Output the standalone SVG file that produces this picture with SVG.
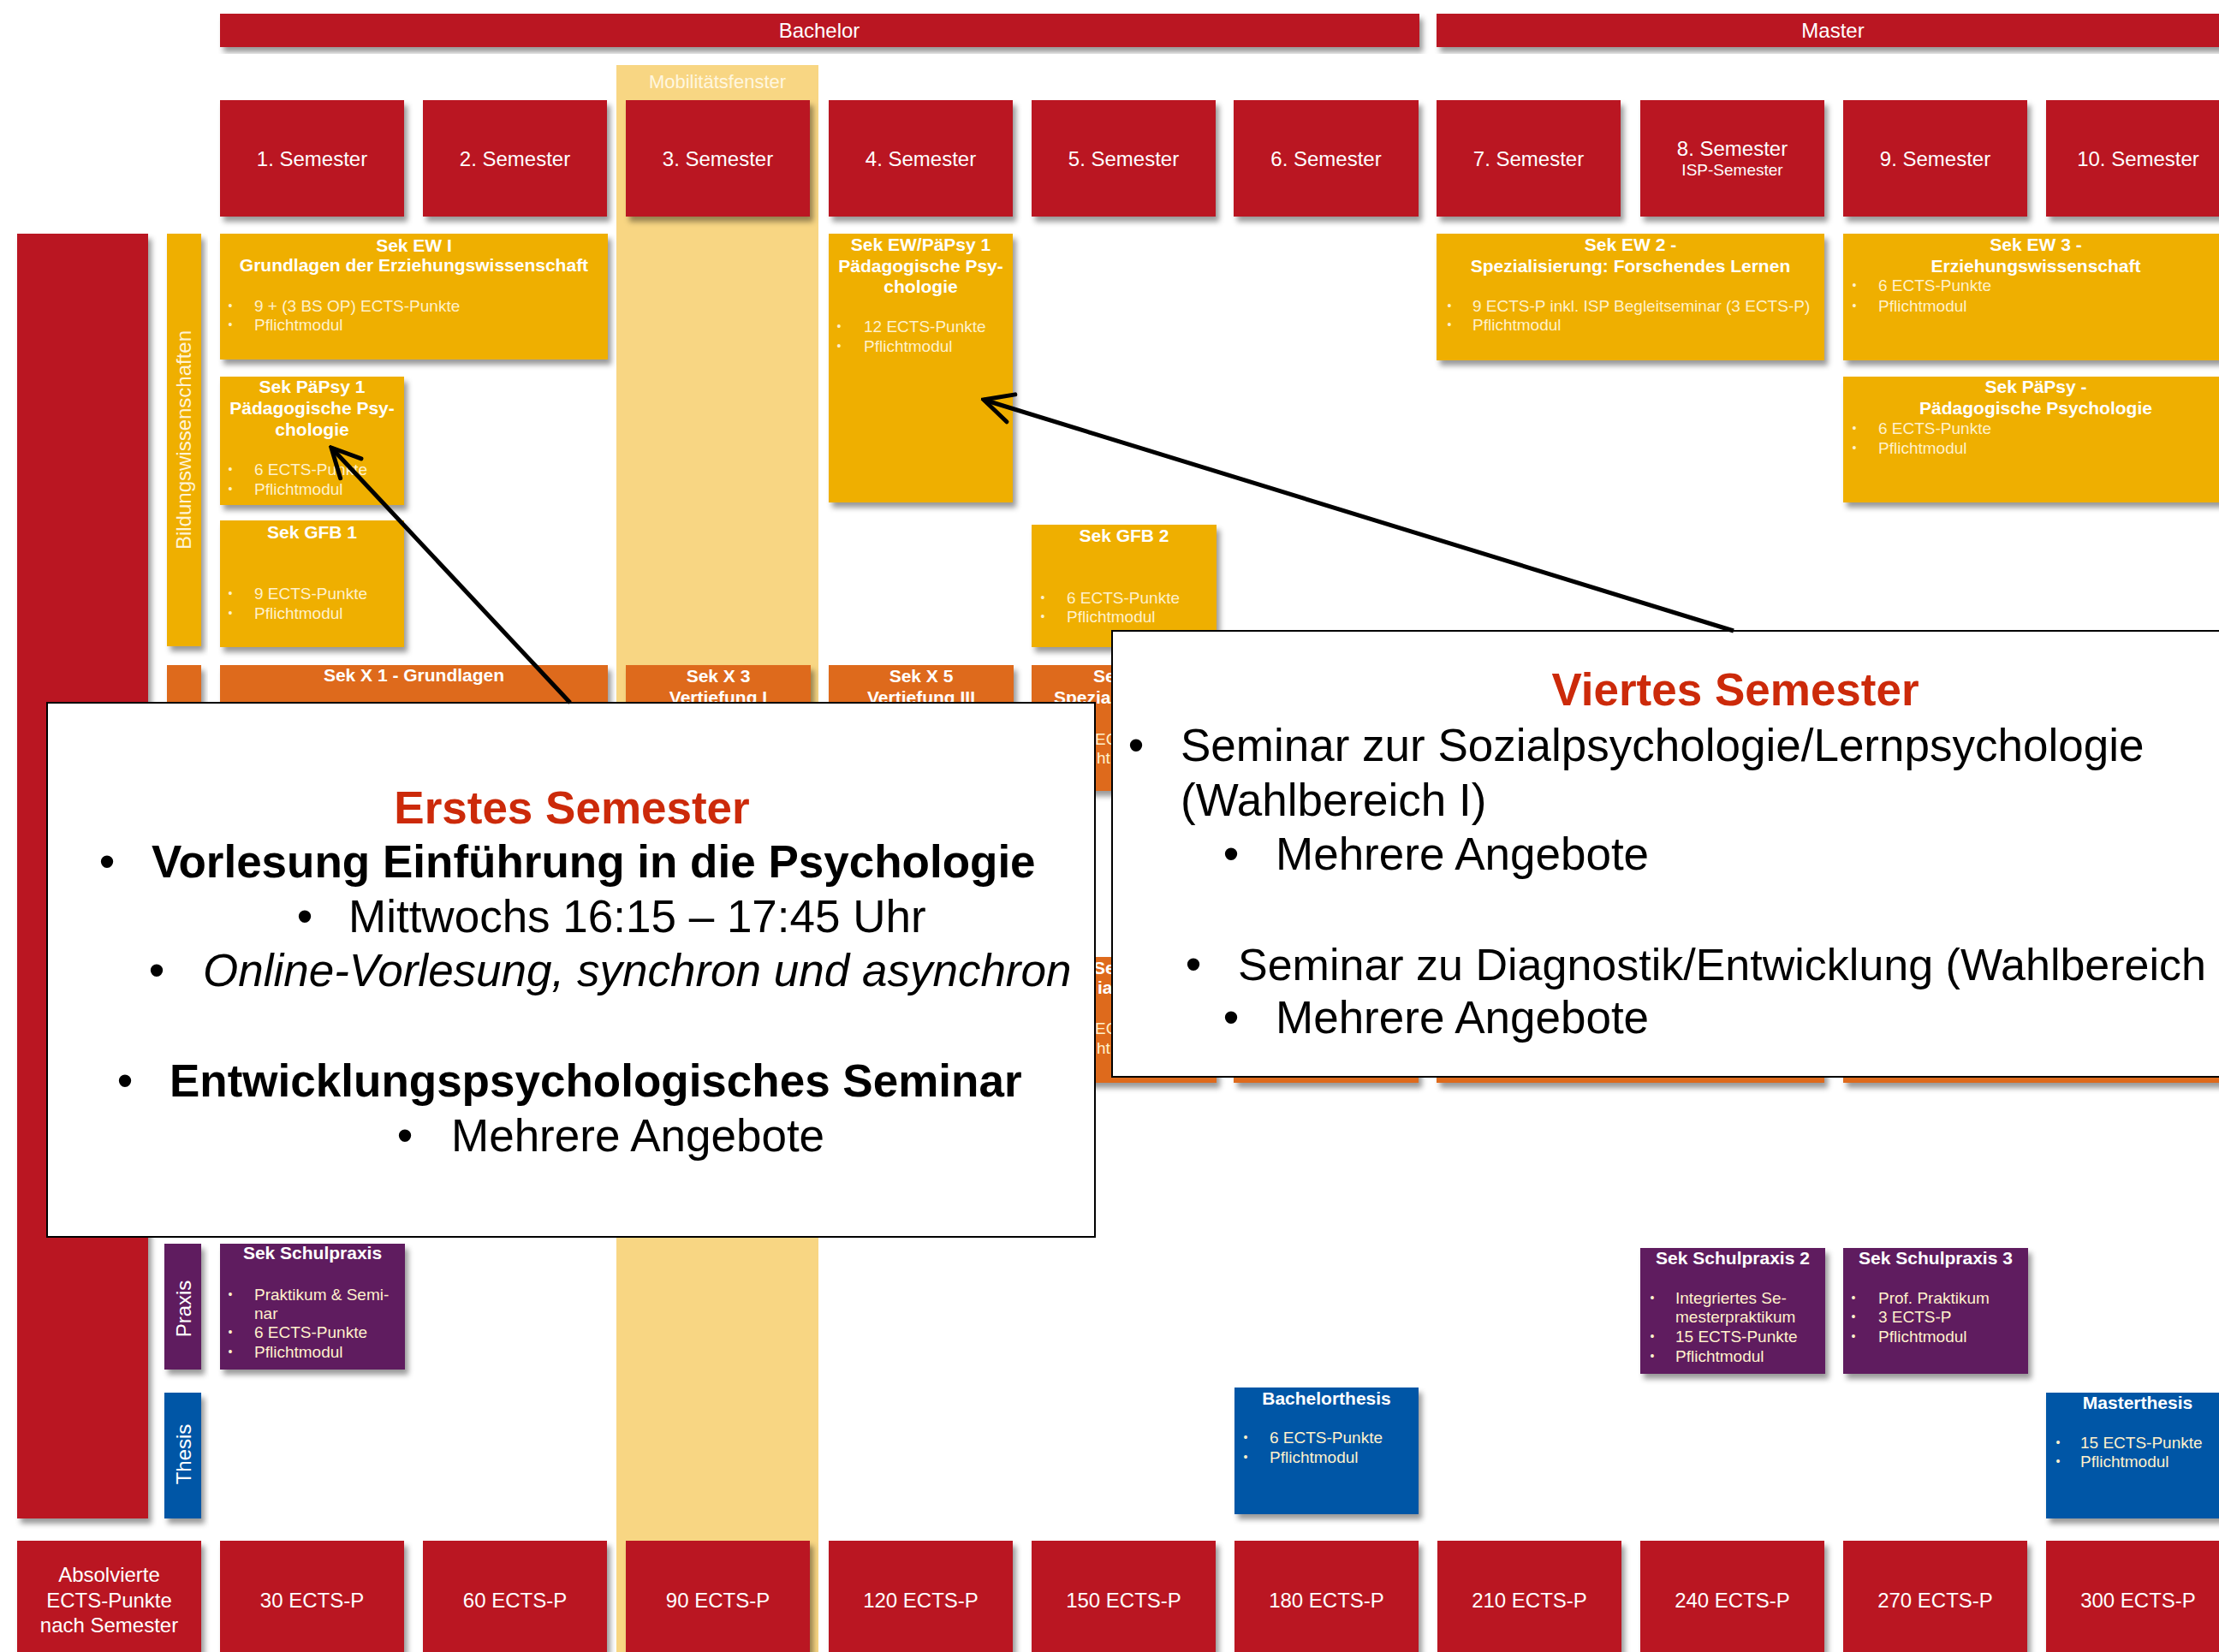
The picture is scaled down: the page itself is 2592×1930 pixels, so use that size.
<svg xmlns="http://www.w3.org/2000/svg" width="2592" height="1930" viewBox="0 0 2592 1930">
<style>
text{font-family:"Liberation Sans",Arial,sans-serif}
.red{fill:#BA1622}
.yel{fill:#EFAF00}
.ora{fill:#DE6B1F}
.pur{fill:#5E1E5E}
.blu{fill:#0556A6}
.band{fill:#F8D683}
.sh{filter:url(#ds)}
.hd{font-size:24px;fill:#fff;text-anchor:middle}
.hs{font-size:19px;fill:#fff;text-anchor:middle}
.vt{font-size:24px;fill:#FFF3D6;text-anchor:middle}
.mt{font-size:21px;font-weight:bold;fill:#fff;text-anchor:middle}
.mf{font-size:21px;font-weight:bold;fill:#fff}
.mb{font-size:19px;fill:#FFF1CC}
.bu{font-size:14px;fill:#FFF1CC;text-anchor:middle}
.cal{fill:#fff;stroke:#000;stroke-width:2}
.ct{font-size:53px;fill:#000}
.cb{font-size:53px;fill:#000;font-weight:bold}
.ci{font-size:53px;fill:#000;font-style:italic}
.cd{font-size:53px;fill:#000;text-anchor:middle}
.tit{font-size:53px;font-weight:bold;fill:#CC2A0A;text-anchor:middle}
.arr{stroke:#000;stroke-width:5;fill:none;marker-end:url(#ah)}
</style>
<defs>
<filter id="ds" x="-10%" y="-10%" width="130%" height="130%">
<feDropShadow dx="4" dy="6" stdDeviation="3" flood-color="#000" flood-opacity="0.4"/>
</filter>
<marker id="ah" viewBox="0 0 12 12" refX="11" refY="6" markerWidth="8" markerHeight="8" orient="auto" markerUnits="strokeWidth">
<path d="M1,1 L11,6 L1,11" fill="none" stroke="#000" stroke-width="1.5" stroke-linecap="round" stroke-linejoin="miter"/>
</marker>
</defs>
<rect width="2592" height="1930" fill="#fff"/>

<g id="mobilitaetsfenster">
<rect class="band" x="720" y="76" width="236" height="1860"/>
<text x="838" y="103" style="font-size:22px;fill:#FFF7E0;text-anchor:middle">Mobilitätsfenster</text>
</g>

<g id="bachelor"><rect class="red sh" x="257" y="16" width="1401" height="39"/><text class="hd" x="957" y="44">Bachelor</text></g>
<g id="master"><rect class="red sh" x="1678" y="16" width="930" height="39"/><text class="hd" x="2141" y="44">Master</text></g>

<g id="semester-1"><rect class="red sh" x="257" y="117" width="215" height="136"/><text class="hd" x="364.5" y="194">1. Semester</text></g>
<g id="semester-2"><rect class="red sh" x="494" y="117" width="215" height="136"/><text class="hd" x="601.5" y="194">2. Semester</text></g>
<g id="semester-3"><rect class="red sh" x="731" y="117" width="215" height="136"/><text class="hd" x="838.5" y="194">3. Semester</text></g>
<g id="semester-4"><rect class="red sh" x="968" y="117" width="215" height="136"/><text class="hd" x="1075.5" y="194">4. Semester</text></g>
<g id="semester-5"><rect class="red sh" x="1205" y="117" width="215" height="136"/><text class="hd" x="1312.5" y="194">5. Semester</text></g>
<g id="semester-6"><rect class="red sh" x="1441" y="117" width="216" height="136"/><text class="hd" x="1549" y="194">6. Semester</text></g>
<g id="semester-7"><rect class="red sh" x="1678" y="117" width="215" height="136"/><text class="hd" x="1785.5" y="194">7. Semester</text></g>
<g id="semester-8"><rect class="red sh" x="1916" y="117" width="215" height="136"/><text class="hd" x="2023.5" y="182">8. Semester</text><text class="hs" x="2023.5" y="205">ISP-Semester</text></g>
<g id="semester-9"><rect class="red sh" x="2153" y="117" width="215" height="136"/><text class="hd" x="2260.5" y="194">9. Semester</text></g>
<g id="semester-10"><rect class="red sh" x="2390" y="117" width="215" height="136"/><text class="hd" x="2497.5" y="194">10. Semester</text></g>

<g id="left-bar"><rect class="red sh" x="20" y="273" width="153" height="1501"/></g>
<g id="bildungswissenschaften"><rect class="yel sh" x="195" y="273" width="40" height="482"/><text class="vt" transform="translate(223,514) rotate(-90)">Bildungswissenschaften</text></g>
<g id="fach-bar"><rect class="ora sh" x="195" y="777" width="40" height="300"/></g>
<g id="praxis"><rect class="pur sh" x="192" y="1453" width="43" height="147"/><text class="vt" style="fill:#fff" transform="translate(223,1529) rotate(-90)">Praxis</text></g>
<g id="thesis"><rect class="blu sh" x="192" y="1627" width="43" height="147"/><text class="vt" style="fill:#fff" transform="translate(223,1699) rotate(-90)">Thesis</text></g>

<g id="sek-ew-1"><rect class="yel sh" x="257" y="273" width="453" height="147"/>
<text class="mt" x="483.5" y="294">Sek EW I</text><text class="mt" x="483.5" y="317">Grundlagen der Erziehungswissenschaft</text>
<text class="bu" x="269" y="362">•</text><text class="mb" x="297" y="364">9 + (3 BS OP) ECTS-Punkte</text>
<text class="bu" x="269" y="384">•</text><text class="mb" x="297" y="386">Pflichtmodul</text></g>

<g id="sek-paepsy-1"><rect class="yel sh" x="257" y="440" width="215" height="150"/>
<text class="mt" x="364.5" y="459">Sek PäPsy 1</text><text class="mt" x="364.5" y="484">Pädagogische Psy-</text><text class="mt" x="364.5" y="509">chologie</text>
<text class="bu" x="269" y="553">•</text><text class="mb" x="297" y="555">6 ECTS-Punkte</text>
<text class="bu" x="269" y="576">•</text><text class="mb" x="297" y="578">Pflichtmodul</text></g>

<g id="sek-gfb-1"><rect class="yel sh" x="257" y="608" width="215" height="148"/>
<text class="mt" x="364.5" y="629">Sek GFB 1</text>
<text class="bu" x="269" y="698">•</text><text class="mb" x="297" y="700">9 ECTS-Punkte</text>
<text class="bu" x="269" y="721">•</text><text class="mb" x="297" y="723">Pflichtmodul</text></g>

<g id="sek-ew-paepsy-1"><rect class="yel sh" x="968" y="273" width="215" height="314"/>
<text class="mt" x="1075.5" y="293">Sek EW/PäPsy 1</text><text class="mt" x="1075.5" y="318">Pädagogische Psy-</text><text class="mt" x="1075.5" y="342">chologie</text>
<text class="bu" x="980" y="386">•</text><text class="mb" x="1009" y="388">12 ECTS-Punkte</text>
<text class="bu" x="980" y="409">•</text><text class="mb" x="1009" y="411">Pflichtmodul</text></g>

<g id="sek-gfb-2"><rect class="yel sh" x="1205" y="613" width="216" height="143"/>
<text class="mt" x="1313" y="633">Sek GFB 2</text>
<text class="bu" x="1218" y="703">•</text><text class="mb" x="1246" y="705">6 ECTS-Punkte</text>
<text class="bu" x="1218" y="725">•</text><text class="mb" x="1246" y="727">Pflichtmodul</text></g>

<g id="sek-ew-2"><rect class="yel sh" x="1678" y="273" width="453" height="148"/>
<text class="mt" x="1904.5" y="293">Sek EW 2 -</text><text class="mt" x="1904.5" y="318">Spezialisierung: Forschendes Lernen</text>
<text class="bu" x="1693" y="362">•</text><text class="mb" x="1720" y="364">9 ECTS-P inkl. ISP Begleitseminar (3 ECTS-P)</text>
<text class="bu" x="1693" y="384">•</text><text class="mb" x="1720" y="386">Pflichtmodul</text></g>

<g id="sek-ew-3"><rect class="yel sh" x="2153" y="273" width="455" height="148"/>
<text class="mt" x="2378" y="293">Sek EW 3 -</text><text class="mt" x="2378" y="318">Erziehungswissenschaft</text>
<text class="bu" x="2166" y="338">•</text><text class="mb" x="2194" y="340">6 ECTS-Punkte</text>
<text class="bu" x="2166" y="362">•</text><text class="mb" x="2194" y="364">Pflichtmodul</text></g>

<g id="sek-paepsy-master"><rect class="yel sh" x="2153" y="440" width="455" height="147"/>
<text class="mt" x="2378" y="459">Sek PäPsy -</text><text class="mt" x="2378" y="484">Pädagogische Psychologie</text>
<text class="bu" x="2166" y="505">•</text><text class="mb" x="2194" y="507">6 ECTS-Punkte</text>
<text class="bu" x="2166" y="528">•</text><text class="mb" x="2194" y="530">Pflichtmodul</text></g>

<g id="sek-x-1"><rect class="ora sh" x="257" y="777" width="453" height="147"/><text class="mt" x="483.5" y="796">Sek X 1 - Grundlagen</text></g>
<g id="sek-x-3"><rect class="ora sh" x="731" y="777" width="216" height="147"/><text class="mt" x="839" y="797">Sek X 3</text><text class="mt" x="839" y="822">Vertiefung I</text></g>
<g id="sek-x-5"><rect class="ora sh" x="968" y="777" width="216" height="147"/><text class="mt" x="1076" y="797">Sek X 5</text><text class="mt" x="1076" y="822">Vertiefung III</text></g>
<g id="sek-x-col5-a"><rect class="ora sh" x="1205" y="777" width="216" height="147"/>
<text class="mf" x="1277" y="797">Se</text><text class="mf" x="1231" y="822">Spezia</text>
<text class="mb" x="1279" y="870">EC</text><text class="mb" x="1281" y="892">ht</text></g>
<g id="sek-x-col5-b"><rect class="ora sh" x="1205" y="1118" width="216" height="147"/>
<text class="mf" x="1277" y="1138">Se</text><text class="mf" x="1282" y="1161">ia</text>
<text class="mb" x="1279" y="1208">EC</text><text class="mb" x="1281" y="1231">ht</text></g>
<g id="sek-x-col6"><rect class="ora sh" x="1441" y="1118" width="216" height="147"/></g>
<g id="sek-x-col78"><rect class="ora sh" x="1678" y="1118" width="453" height="147"/></g>
<g id="sek-x-col910"><rect class="ora sh" x="2153" y="1118" width="455" height="147"/></g>

<g id="sek-schulpraxis"><rect class="pur sh" x="257" y="1453" width="216" height="147"/>
<text class="mt" x="365" y="1471">Sek Schulpraxis</text>
<text class="bu" x="269" y="1517">•</text><text class="mb" x="297" y="1519">Praktikum &amp; Semi-</text>
<text class="mb" x="297" y="1541">nar</text>
<text class="bu" x="269" y="1561">•</text><text class="mb" x="297" y="1563">6 ECTS-Punkte</text>
<text class="bu" x="269" y="1584">•</text><text class="mb" x="297" y="1586">Pflichtmodul</text></g>

<g id="sek-schulpraxis-2"><rect class="pur sh" x="1916" y="1458" width="216" height="147"/>
<text class="mt" x="2024" y="1477">Sek Schulpraxis 2</text>
<text class="bu" x="1930" y="1521">•</text><text class="mb" x="1957" y="1523">Integriertes Se-</text>
<text class="mb" x="1957" y="1545">mesterpraktikum</text>
<text class="bu" x="1930" y="1566">•</text><text class="mb" x="1957" y="1568">15 ECTS-Punkte</text>
<text class="bu" x="1930" y="1589">•</text><text class="mb" x="1957" y="1591">Pflichtmodul</text></g>

<g id="sek-schulpraxis-3"><rect class="pur sh" x="2153" y="1458" width="216" height="147"/>
<text class="mt" x="2261" y="1477">Sek Schulpraxis 3</text>
<text class="bu" x="2165" y="1521">•</text><text class="mb" x="2194" y="1523">Prof. Praktikum</text>
<text class="bu" x="2165" y="1543">•</text><text class="mb" x="2194" y="1545">3 ECTS-P</text>
<text class="bu" x="2165" y="1566">•</text><text class="mb" x="2194" y="1568">Pflichtmodul</text></g>

<g id="bachelorthesis"><rect class="blu sh" x="1442" y="1621" width="215" height="148"/>
<text class="mt" x="1549.5" y="1641">Bachelorthesis</text>
<text class="bu" x="1455" y="1684">•</text><text class="mb" x="1483" y="1686">6 ECTS-Punkte</text>
<text class="bu" x="1455" y="1707">•</text><text class="mb" x="1483" y="1709">Pflichtmodul</text></g>

<g id="masterthesis"><rect class="blu sh" x="2390" y="1627" width="218" height="147"/>
<text class="mt" x="2497" y="1646">Masterthesis</text>
<text class="bu" x="2404" y="1690">•</text><text class="mb" x="2430" y="1692">15 ECTS-Punkte</text>
<text class="bu" x="2404" y="1712">•</text><text class="mb" x="2430" y="1714">Pflichtmodul</text></g>

<g id="ects-label"><rect class="red sh" x="20" y="1800" width="215" height="140"/>
<text class="hd" x="127.5" y="1848">Absolvierte</text><text class="hd" x="127.5" y="1878">ECTS-Punkte</text><text class="hd" x="127.5" y="1907">nach Semester</text></g>
<g id="ects-30"><rect class="red sh" x="257" y="1800" width="215" height="140"/><text class="hd" x="364.5" y="1878">30 ECTS-P</text></g>
<g id="ects-60"><rect class="red sh" x="494" y="1800" width="215" height="140"/><text class="hd" x="601.5" y="1878">60 ECTS-P</text></g>
<g id="ects-90"><rect class="red sh" x="731" y="1800" width="215" height="140"/><text class="hd" x="838.5" y="1878">90 ECTS-P</text></g>
<g id="ects-120"><rect class="red sh" x="968" y="1800" width="215" height="140"/><text class="hd" x="1075.5" y="1878">120 ECTS-P</text></g>
<g id="ects-150"><rect class="red sh" x="1205" y="1800" width="215" height="140"/><text class="hd" x="1312.5" y="1878">150 ECTS-P</text></g>
<g id="ects-180"><rect class="red sh" x="1442" y="1800" width="215" height="140"/><text class="hd" x="1549.5" y="1878">180 ECTS-P</text></g>
<g id="ects-210"><rect class="red sh" x="1679" y="1800" width="215" height="140"/><text class="hd" x="1786.5" y="1878">210 ECTS-P</text></g>
<g id="ects-240"><rect class="red sh" x="1916" y="1800" width="215" height="140"/><text class="hd" x="2023.5" y="1878">240 ECTS-P</text></g>
<g id="ects-270"><rect class="red sh" x="2153" y="1800" width="215" height="140"/><text class="hd" x="2260.5" y="1878">270 ECTS-P</text></g>
<g id="ects-300"><rect class="red sh" x="2390" y="1800" width="215" height="140"/><text class="hd" x="2497.5" y="1878">300 ECTS-P</text></g>

<g id="callout-erstes-semester">
<rect class="cal" x="55" y="821" width="1224" height="624"/>
<text class="tit" x="668" y="962">Erstes Semester</text>
<text class="cd" x="125" y="1025">•</text><text class="cb" x="177" y="1025">Vorlesung Einführung in die Psychologie</text>
<text class="cd" x="356" y="1089">•</text><text class="ct" x="407" y="1089">Mittwochs 16:15 – 17:45 Uhr</text>
<text class="cd" x="183" y="1152">•</text><text class="ci" x="237" y="1152">Online-Vorlesung, synchron und asynchron</text>
<text class="cd" x="146" y="1281">•</text><text class="cb" x="198" y="1281">Entwicklungspsychologisches Seminar</text>
<text class="cd" x="473" y="1345">•</text><text class="ct" x="527" y="1345">Mehrere Angebote</text>
</g>

<g id="callout-viertes-semester">
<rect class="cal" x="1299" y="737" width="1310" height="521"/>
<text class="tit" x="2027" y="824">Viertes Semester</text>
<text class="cd" x="1327" y="889">•</text><text class="ct" x="1379" y="889">Seminar zur Sozialpsychologie/Lernpsychologie</text>
<text class="ct" x="1379" y="953">(Wahlbereich I)</text>
<text class="cd" x="1438" y="1016">•</text><text class="ct" x="1490" y="1016">Mehrere Angebote</text>
<text class="cd" x="1394" y="1145">•</text><text class="ct" x="1446" y="1145" style="font-size:52px">Seminar zu Diagnostik/Entwicklung (Wahlbereich</text>
<text class="cd" x="1438" y="1207">•</text><text class="ct" x="1490" y="1207">Mehrere Angebote</text>
</g>

<g id="connectors">
<line class="arr" x1="666" y1="821" x2="387" y2="523"/>
<line class="arr" x1="2025" y1="737" x2="1149" y2="467"/>
</g>
</svg>
